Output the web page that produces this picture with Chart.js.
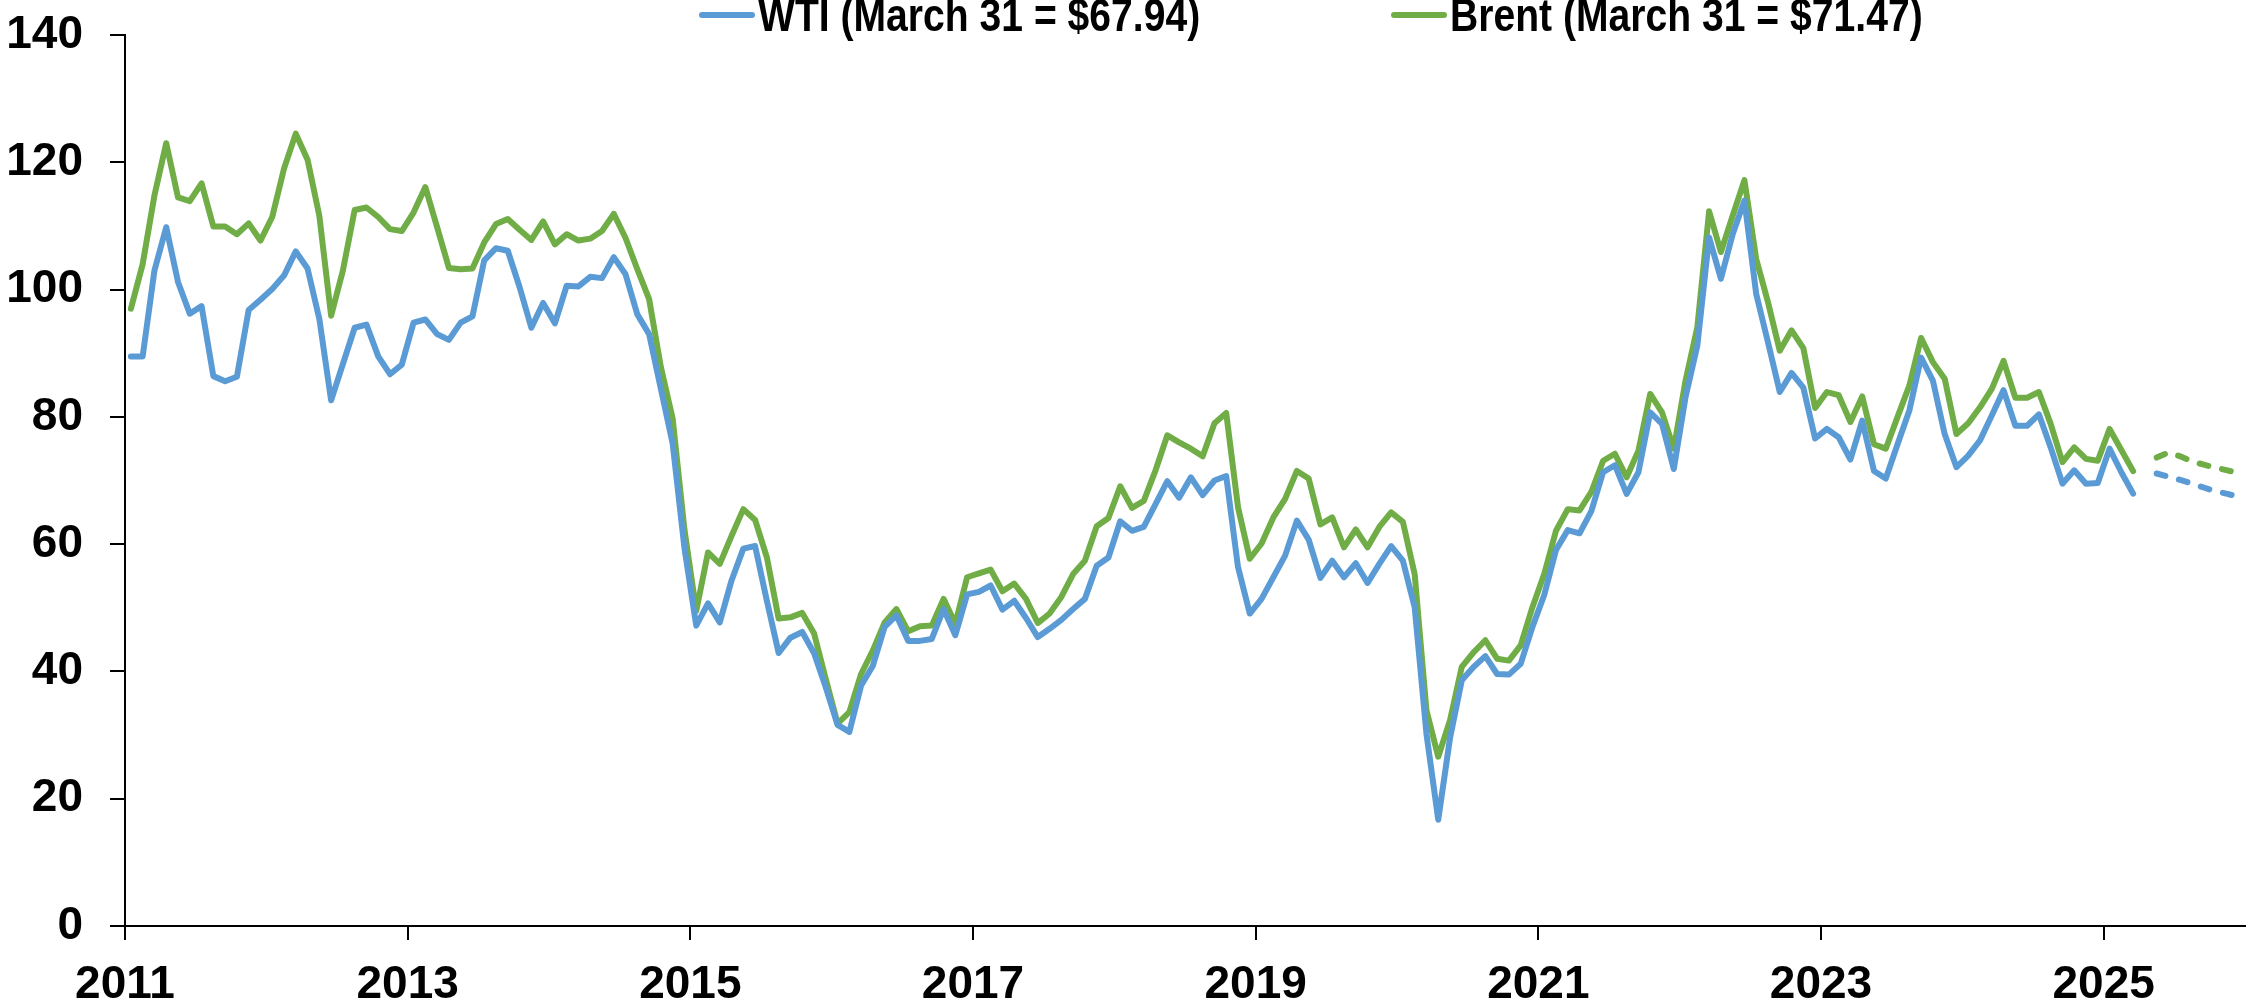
<!DOCTYPE html>
<html>
<head>
<meta charset="utf-8">
<script src="https://cdn.jsdelivr.net/npm/chart.js@4.4.0/dist/chart.umd.min.js"></script>
<style>
    html, body { margin: 0; padding: 0; background: #fff; overflow: hidden; }
    #wrap { position: relative; width: 2251px; height: 1007px; }
</style>
</head>
<body>
<div id="wrap"><canvas id="chart-oil"></canvas></div>
<script>
// monthly averages, Jan 2011 .. Mar 2025 (last point = March 31 close)
const yearLabels = ["2011", "2013", "2015", "2017", "2019", "2021", "2023", "2025"];
const seriesLabels = ["WTI (March 31 = $67.94)", "Brent (March 31 = $71.47)"];

const wti = [
    89.5, 89.5, 103.0, 109.8, 101.2, 96.2, 97.4, 86.4, 85.6, 86.3, 96.8, 98.4,
    100.1, 102.2, 106.0, 103.3, 95.4, 82.6, 88.3, 94.0, 94.5, 89.5, 86.7, 88.2,
    94.8, 95.3, 93.0, 92.1, 94.8, 95.8, 104.6, 106.5, 106.1, 100.4, 94.0, 97.9,
    94.7, 100.6, 100.5, 102.0, 101.8, 105.1, 102.4, 96.1, 93.0, 84.4, 75.8, 59.4,
    47.2, 50.7, 47.7, 54.3, 59.3, 59.7, 51.1, 42.9, 45.3, 46.2, 42.9, 37.5,
    31.6, 30.5, 37.8, 40.9, 47.0, 48.8, 44.8, 44.8, 45.1, 49.8, 45.7, 52.1,
    52.5, 53.5, 49.7, 51.1, 48.4, 45.4, 46.7, 48.1, 49.8, 51.4, 56.6, 57.9,
    63.6, 62.1, 62.7, 66.3, 69.9, 67.3, 70.5, 67.7, 70.0, 70.7, 56.4, 49.1,
    51.4, 54.8, 58.2, 63.7, 60.7, 54.7, 57.4, 54.8, 57.0, 53.9, 56.9, 59.7,
    57.4, 50.1, 30.2, 16.7, 29.5, 38.6, 40.7, 42.4, 39.6, 39.5, 41.2, 47.0,
    52.0, 59.1, 62.2, 61.7, 65.2, 71.3, 72.4, 67.9, 71.3, 80.7, 78.9, 71.8,
    83.1, 91.2, 108.2, 101.7, 108.7, 114.0, 99.3, 91.7, 83.9, 86.9, 84.6, 76.6,
    78.1, 76.8, 73.3, 79.4, 71.5, 70.3, 75.7, 81.0, 89.3, 85.7, 77.3, 72.1,
    73.9, 76.3, 80.2, 84.2, 78.6, 78.6, 80.4, 75.2, 69.5, 71.6, 69.5, 69.6,
    75.0, 71.3, 67.94
];

const brent = [
    97.0, 104.0, 114.8, 123.0, 114.5, 113.9, 116.7, 109.9, 109.9, 108.7, 110.4, 107.7,
    111.4, 119.0, 124.5, 120.4, 111.6, 95.9, 103.0, 112.5, 112.9, 111.4, 109.5, 109.2,
    112.1, 116.1, 109.8, 103.4, 103.2, 103.3, 107.4, 110.3, 111.1, 109.4, 107.8, 110.7,
    107.1, 108.7, 107.7, 108.0, 109.2, 111.9, 108.1, 103.2, 98.5, 87.8, 79.7, 62.3,
    49.5, 58.7, 56.9, 61.3, 65.5, 63.8, 57.9, 48.3, 48.5, 49.2, 46.0, 38.8,
    31.8, 33.6, 39.6, 43.3, 47.7, 49.8, 46.3, 47.1, 47.2, 51.4, 47.5, 54.8,
    55.4, 56.0, 52.6, 53.8, 51.4, 47.6, 49.1, 51.7, 55.3, 57.4, 62.8, 64.1,
    69.1, 65.7, 66.8, 71.6, 77.1, 76.0, 75.0, 73.8, 79.0, 80.6, 65.8, 57.7,
    60.1, 64.2, 67.1, 71.5, 70.3, 63.1, 64.2, 59.5, 62.3, 59.5, 62.7, 65.0,
    63.5, 55.3, 33.9, 26.6, 32.3, 40.7, 43.0, 44.9, 42.0, 41.7, 44.1, 50.1,
    55.3, 62.1, 65.5, 65.3, 68.2, 73.1, 74.2, 70.5, 74.7, 83.6, 80.7, 75.0,
    85.7, 94.1, 112.3, 105.9, 111.6, 117.2, 104.8, 98.0, 90.4, 93.6, 90.8, 81.4,
    83.9, 83.4, 79.2, 83.2, 75.7, 75.0, 80.0, 84.9, 92.4, 88.6, 86.0, 77.3,
    79.0, 81.5, 84.4, 88.8, 83.0, 83.0, 83.9, 78.9, 72.9, 75.2, 73.4, 73.1,
    78.1, 74.8, 71.47
];

// forecast, May 2025 .. Dec 2025
const forecastStart = 172; // month index (0 = Jan 2011)
const wtiForecast = [71.1, 70.6, 70.1, 69.5, 68.9, 68.3, 67.9, 67.4];
const brentForecast = [73.6, 74.4, 73.8, 73.0, 72.5, 72.0, 71.6, 71.1];

const blue = "#5b9bd5";
const green = "#70ad47";
const fontFamily = "'Liberation Sans', Arial, sans-serif";
const legendX = [700, 1392];

// points sit in the middle of their month
function toPoints(values, start) {
    return values.map((v, i) => ({ x: start + i + 0.5, y: v }));
}

// legend sits half off the top edge, so it is drawn by hand
const topLegend = {
    id: "topLegend",
    afterDraw(chart) {
        const ctx = chart.ctx;
        const items = chart.data.datasets.filter((d) => d.inLegend);
        ctx.save();
        ctx.font = "bold 46px " + fontFamily;
        ctx.textBaseline = "alphabetic";
        ctx.textAlign = "left";
        items.forEach((ds, i) => {
            const x0 = legendX[i];
            ctx.strokeStyle = ds.borderColor;
            ctx.lineWidth = 6;
            ctx.lineCap = "round";
            ctx.beginPath();
            ctx.moveTo(x0 + 2, 15);
            ctx.lineTo(x0 + 52, 15);
            ctx.stroke();
            ctx.fillStyle = "#000";
            ctx.save();
            ctx.translate(x0 + 58, 31);
            ctx.scale(0.85, 1); // narrow face
            ctx.fillText(ds.label, 0, 0);
            ctx.restore();
        });
        ctx.restore();
    },
};

const tickFont = { family: fontFamily, size: 46, weight: "bold" };

new Chart(document.getElementById("chart-oil").getContext("2d"), {
    type: "line",
    data: {
        datasets: [
            {
                label: seriesLabels[0],
                inLegend: true,
                data: toPoints(wti, 0),
                borderColor: blue,
                borderWidth: 6,
                pointRadius: 0,
                tension: 0,
                borderJoinStyle: "round",
                borderCapStyle: "round",
            },
            {
                label: seriesLabels[1],
                inLegend: true,
                data: toPoints(brent, 0),
                borderColor: green,
                borderWidth: 6,
                pointRadius: 0,
                tension: 0,
                borderJoinStyle: "round",
                borderCapStyle: "round",
            },
            {
                label: "WTI forecast",
                data: toPoints(wtiForecast, forecastStart),
                borderColor: blue,
                borderWidth: 6,
                borderDash: [9, 14],
                pointRadius: 0,
                borderCapStyle: "round",
            },
            {
                label: "Brent forecast",
                data: toPoints(brentForecast, forecastStart),
                borderColor: green,
                borderWidth: 6,
                borderDash: [9, 14],
                pointRadius: 0,
                borderCapStyle: "round",
            },
        ],
    },
    options: {
        responsive: true,
        maintainAspectRatio: false,
        animation: false,
        layout: { padding: { top: 35, right: 6, left: 0, bottom: 0 } },
        plugins: {
            legend: { display: false },
            tooltip: { enabled: false },
        },
        scales: {
            x: {
                type: "linear",
                min: 0,
                max: 180,
                grid: {
                    drawOnChartArea: false,
                    drawTicks: true,
                    tickLength: 14,
                    color: "#000",
                    lineWidth: 2,
                },
                border: { display: true, color: "#000", width: 2 },
                ticks: {
                    stepSize: 24,
                    includeBounds: false,
                    autoSkip: false,
                    maxRotation: 0,
                    padding: 18,
                    color: "#000",
                    font: tickFont,
                    callback: (v) => yearLabels[v / 24],
                },
                afterFit(scale) {
                    scale.height = 81;
                },
            },
            y: {
                min: 0,
                max: 140,
                grid: {
                    drawOnChartArea: false,
                    drawTicks: true,
                    tickLength: 15,
                    color: "#000",
                    lineWidth: 2,
                },
                border: { display: true, color: "#000", width: 2 },
                ticks: {
                    stepSize: 20,
                    padding: 27,
                    color: "#000",
                    font: tickFont,
                },
                afterFit(scale) {
                    scale.width = 125;
                    scale.paddingTop = 0;
                    scale.paddingBottom = 0;
                },
            },
        },
    },
    plugins: [topLegend],
});
</script>
</body>
</html>
